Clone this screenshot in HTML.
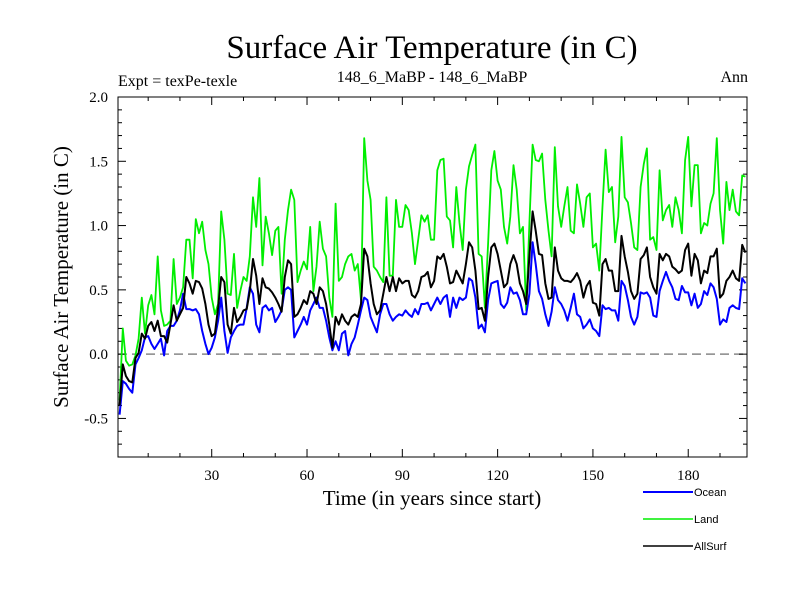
<!DOCTYPE html>
<html><head><meta charset="utf-8"><style>
html,body{margin:0;padding:0;background:#fff;}
svg{display:block;}
text{font-family:"Liberation Serif",serif;fill:#000;}
.leg{font-family:"Liberation Sans",sans-serif;font-size:11px;}
</style></head><body>
<svg id="chart" width="800" height="600" viewBox="0 0 800 600" xmlns="http://www.w3.org/2000/svg">
<text x="432" y="58" font-size="33" text-anchor="middle">Surface Air Temperature (in C)</text>
<text x="118" y="86" font-size="16">Expt = texPe-texle</text>
<text x="432" y="82" font-size="16" text-anchor="middle">148_6_MaBP - 148_6_MaBP</text>
<text x="748" y="82" font-size="16" text-anchor="end">Ann</text>
<text transform="translate(68,277) rotate(-90)" font-size="21" text-anchor="middle">Surface Air Temperature (in C)</text>
<text x="432" y="505" font-size="21" text-anchor="middle">Time (in years since start)</text>
<g id="ticks"></g>
<g id="series"></g>
<rect x="118" y="97" width="629" height="360" fill="none" stroke="#000" stroke-width="1"/>
<g>
<line x1="643" y1="492" x2="693" y2="492" stroke="#0000ff" stroke-width="2"/>
<text class="leg" x="694" y="496">Ocean</text>
<line x1="643" y1="519" x2="693" y2="519" stroke="#00ee00" stroke-width="1.5"/>
<text class="leg" x="694" y="523">Land</text>
<line x1="643" y1="546" x2="693" y2="546" stroke="#000" stroke-width="1.5"/>
<text class="leg" x="694" y="550">AllSurf</text>
</g>
</svg>
<script>
const ocean=[-0.47,-0.21,-0.23,-0.27,-0.3,-0.08,-0.03,0.03,0.13,0.14,
0.08,0.04,0.08,0.12,-0.01,0.18,0.22,0.22,0.26,0.34,
0.47,0.35,0.35,0.34,0.35,0.31,0.18,0.08,0.0,0.05,
0.13,0.26,0.44,0.18,0.01,0.13,0.18,0.22,0.23,0.23,
0.36,0.52,0.47,0.23,0.17,0.36,0.38,0.34,0.36,
0.25,0.29,0.34,0.5,0.52,0.5,0.13,0.18,0.23,0.29,0.23,
0.34,0.39,0.44,0.36,0.36,0.26,0.13,0.03,0.1,0.03,
0.16,0.18,-0.01,0.08,0.13,0.23,0.34,0.44,0.42,0.29,
0.23,0.17,0.31,0.39,0.39,0.31,0.26,0.29,0.31,0.3,
0.34,0.31,0.29,0.35,0.31,0.39,0.39,0.4,0.34,0.39,
0.44,0.39,0.44,
0.46,0.29,0.44,0.36,0.44,0.42,0.44,
0.59,0.57,0.44,0.2,0.23,0.17,0.42,0.55,0.56,0.57,
0.39,0.36,0.4,0.52,0.47,0.48,0.42,0.31,0.31,0.47,
0.87,0.7,0.49,0.43,0.31,0.22,0.33,0.52,0.42,0.39,
0.34,0.26,0.36,0.47,0.31,0.29,0.2,0.23,
0.27,0.2,0.18,0.14,0.38,0.35,0.36,0.34,0.34,0.26,0.57,0.53,
0.42,0.29,0.23,0.29,0.48,0.47,0.48,0.44,0.3,0.29,
0.49,0.57,0.64,0.57,0.52,0.43,0.42,0.53,0.48,0.48,
0.38,0.47,0.36,0.39,0.49,0.46,0.55,0.52,0.43,0.23,
0.27,0.25,0.36,0.38,0.36,0.35,0.59,0.55];
const land=[-0.36,0.2,-0.05,-0.09,-0.08,-0.01,0.12,0.44,0.16,0.38,
0.46,0.31,0.76,0.34,0.22,0.23,0.26,0.74,0.39,0.44,
0.52,0.89,0.89,0.59,1.05,0.94,1.03,0.81,0.7,0.44,
0.31,0.39,1.11,0.89,0.47,0.46,0.78,0.36,0.49,0.6,
0.57,0.76,1.22,0.99,1.37,0.69,1.07,0.94,0.77,
0.96,0.99,0.47,0.89,1.12,1.28,1.2,0.56,0.65,0.72,0.66,
0.99,0.49,0.68,1.03,0.82,0.76,0.44,0.29,1.17,0.57,
0.6,0.7,0.76,0.78,0.65,0.7,0.42,1.68,1.35,1.2,
0.68,0.65,0.6,0.56,1.22,0.61,0.61,1.2,0.99,0.99,
1.16,1.12,0.94,0.7,0.89,1.08,1.03,1.08,0.89,0.89,
1.43,1.51,1.52,
1.07,1.04,0.83,1.3,1.02,0.81,1.28,
1.46,1.55,1.63,0.78,0.76,0.36,0.86,1.43,1.58,1.35,
1.28,0.99,0.86,1.07,1.47,1.28,0.94,0.99,0.34,1.02,
1.63,1.51,1.5,1.56,1.2,0.96,0.76,1.61,1.15,0.99,
1.15,1.3,0.96,0.94,1.32,1.17,0.99,1.22,
1.25,0.83,0.86,0.65,1.15,1.59,1.26,1.3,0.87,1.07,1.69,1.22,
1.18,1.02,0.83,0.81,1.3,1.48,1.6,0.89,0.91,0.81,
1.43,1.04,1.12,1.16,0.99,1.22,1.12,0.94,1.51,1.69,
1.15,1.47,1.47,0.94,1.02,1.0,1.17,1.25,1.68,1.12,
0.86,1.34,1.12,1.28,1.11,1.08,1.39,1.38];
const allsurf=[-0.4,-0.08,-0.17,-0.21,-0.22,-0.03,0.01,0.16,0.12,0.22,
0.25,0.18,0.26,0.14,0.14,0.09,0.23,0.38,0.26,0.31,
0.36,0.6,0.55,0.47,0.57,0.56,0.51,0.39,0.23,0.14,
0.16,0.36,0.6,0.56,0.23,0.16,0.36,0.25,0.29,0.34,
0.35,0.49,0.74,0.61,0.39,0.59,0.52,0.51,0.48,
0.44,0.39,0.33,0.6,0.73,0.7,0.29,0.31,0.36,0.42,0.39,
0.49,0.47,0.39,0.52,0.49,0.39,0.23,0.05,0.29,0.23,
0.31,0.26,0.23,0.29,0.31,0.29,0.39,0.82,0.76,0.55,
0.39,0.31,0.34,0.47,0.6,0.49,0.6,0.49,0.59,0.55,
0.57,0.57,0.46,0.44,0.49,0.6,0.61,0.64,0.52,0.57,
0.76,0.74,0.78,
0.68,0.55,0.56,0.65,0.6,0.55,0.7,
0.87,0.83,0.65,0.35,0.36,0.26,0.6,0.83,0.86,0.78,
0.65,0.52,0.55,0.7,0.77,0.7,0.55,0.49,0.39,0.76,
1.11,0.96,0.78,0.77,0.55,0.43,0.44,0.83,0.65,0.59,
0.57,0.57,0.56,0.59,0.63,0.57,0.44,0.53,
0.57,0.4,0.39,0.3,0.7,0.74,0.65,0.65,0.49,0.49,0.92,0.76,
0.64,0.49,0.43,0.47,0.74,0.77,0.83,0.6,0.52,0.47,
0.78,0.73,0.78,0.76,0.68,0.66,0.63,0.65,0.81,0.86,
0.61,0.78,0.73,0.55,0.65,0.63,0.76,0.76,0.82,0.44,
0.47,0.57,0.6,0.65,0.59,0.57,0.85,0.79];
const yTickLabels=["-0.5","0.0","0.5","1.0","1.5","2.0"];
const yTickValues=[-0.5,0,0.5,1.0,1.5,2.0];
const xTickLabels=["30","60","90","120","150","180"];
const xTickValues=[30,60,90,120,150,180];

const L=118,R=747,T=97,B=457;
function xs(t){return L+(t-0.5)*(R-L)/198;}
function ys(v){return B-(v+0.8)*(B-T)/2.8;}
const NS="http://www.w3.org/2000/svg";
const tg=document.getElementById('ticks');
function ln(x1,y1,x2,y2,name,stroke,w,dash){
  const l=document.createElementNS(NS,'line');
  l.setAttribute('x1',x1);l.setAttribute('y1',y1);l.setAttribute('x2',x2);l.setAttribute('y2',y2);
  l.setAttribute('stroke',stroke||'#000');l.setAttribute('stroke-width',w||1);
  if(dash)l.setAttribute('stroke-dasharray',dash);
  
  
  tg.appendChild(l);return l;
}
ln(L,ys(0),R,ys(0),'zero-line','#888',1.5,'9,5');
for(let k=-7;k<=20;k++){
  const v=k/10,y=ys(v),maj=(k%5===0);
  const len=maj?8:4;
  ln(L,y,L+len,y,'y-tick','#000',1);
  ln(R,y,R-len,y,'y-tick-right','#000',1);
}
yTickValues.forEach((v,i)=>{
  const t=document.createElementNS(NS,'text');
  t.setAttribute('x',108);t.setAttribute('y',ys(v)+5);
  t.setAttribute('font-size','15');t.setAttribute('text-anchor','end');
  t.textContent=yTickLabels[i];
  
  
  tg.appendChild(t);
});
for(let yr=10;yr<=190;yr+=10){
  const x=xs(yr),maj=(yr%30===0),len=maj?8:4;
  ln(x,B,x,B-len,'x-tick','#000',1);
  ln(x,T,x,T+len,'x-tick-top','#000',1);
}
xTickValues.forEach((v,i)=>{
  const t=document.createElementNS(NS,'text');
  t.setAttribute('x',xs(v));t.setAttribute('y',480);
  t.setAttribute('font-size','15');t.setAttribute('text-anchor','middle');
  t.textContent=xTickLabels[i];
  
  
  tg.appendChild(t);
});
const sg=document.getElementById('series');
function series(arr,color,w,name){
  const p=document.createElementNS(NS,'polyline');
  p.setAttribute('points',arr.map((v,i)=>xs(i+1).toFixed(1)+','+ys(v).toFixed(1)).join(' '));
  p.setAttribute('fill','none');p.setAttribute('stroke',color);p.setAttribute('stroke-width',w);
  p.setAttribute('stroke-linejoin','round');
  
  
  sg.appendChild(p);
}
series(land,'#00ee00',1.8,'land-line');
series(ocean,'#0000ff',2,'ocean-line');
series(allsurf,'#000000',2,'allsurf-line');
</script>
</body></html>
